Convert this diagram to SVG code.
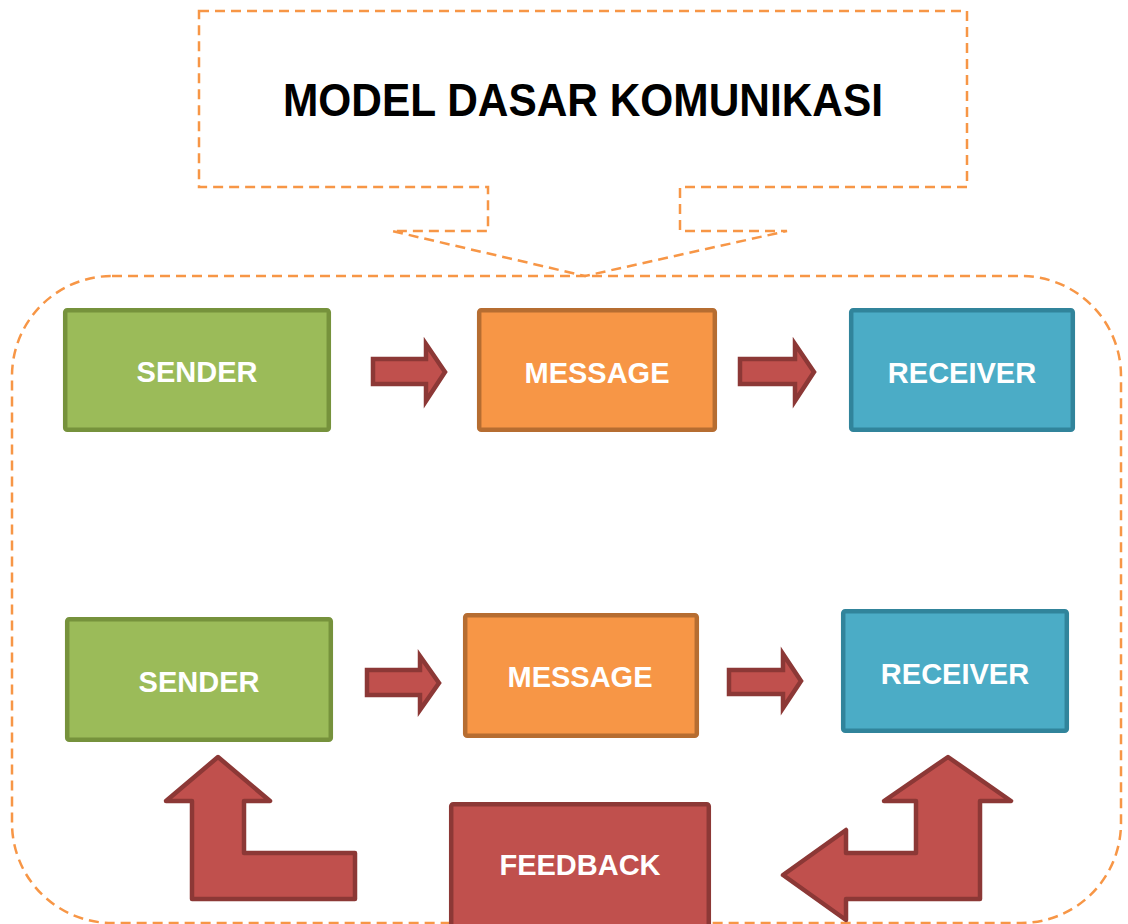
<svg xmlns="http://www.w3.org/2000/svg" width="1128" height="924" viewBox="0 0 1128 924">
<style>
.dash{fill:none;stroke:#F79646;stroke-width:2.5;stroke-dasharray:10 6}
.green{fill:#9BBB59;stroke:#76923C;stroke-width:4.5}
.orange{fill:#F79646;stroke:#B66D31;stroke-width:4.5}
.blue{fill:#4BACC6;stroke:#31849B;stroke-width:4.5}
.red{fill:#C0504D;stroke:#8C3836;stroke-width:4.5;stroke-linejoin:round}
.arr{fill:#C0504D;stroke:#8C3836;stroke-width:4.5;stroke-linejoin:miter}
.lbl{font-family:"Liberation Sans",Arial,sans-serif;font-weight:bold;font-size:29px;fill:#FFFFFF;text-anchor:middle}
.title{font-family:"Liberation Sans",Arial,sans-serif;font-weight:bold;font-size:47px;fill:#000000;text-anchor:middle}
</style>
<rect width="1128" height="924" fill="#FFFFFF"/>
<g id="container">
<rect class="dash" x="12" y="276" width="1109" height="647" rx="100" ry="100"/>
</g>
<g id="title">
<path class="dash" d="M199,11 H967 V187 H680 V231 H787 L585,276 L392,231 H488 V187 H199 Z"/>
<text class="title" x="583" y="116" textLength="600" lengthAdjust="spacingAndGlyphs">MODEL DASAR KOMUNIKASI</text>
</g>
<g id="sender1">
<rect class="green" x="65.2" y="310.2" width="263.6" height="119.6" rx="2"/>
<text class="lbl" x="197" y="382">SENDER</text>
</g>
<g id="message1">
<rect class="orange" x="479.2" y="310.2" width="235.6" height="119.6" rx="2"/>
<text class="lbl" x="597" y="383">MESSAGE</text>
</g>
<g id="receiver1">
<rect class="blue" x="851.2" y="310.2" width="221.6" height="119.6" rx="2"/>
<text class="lbl" x="962" y="383">RECEIVER</text>
</g>
<g id="sender2">
<rect class="green" x="67.2" y="619.2" width="263.6" height="120.6" rx="2"/>
<text class="lbl" x="199" y="692">SENDER</text>
</g>
<g id="message2">
<rect class="orange" x="465.2" y="615.2" width="231.6" height="120.6" rx="2"/>
<text class="lbl" x="580" y="687">MESSAGE</text>
</g>
<g id="receiver2">
<rect class="blue" x="843.2" y="611.2" width="223.6" height="119.6" rx="2"/>
<text class="lbl" x="955" y="684">RECEIVER</text>
</g>
<g id="feedback">
<rect class="red" x="451.2" y="804.2" width="257.6" height="140" rx="2"/>
<text class="lbl" x="580" y="875">FEEDBACK</text>
</g>
<g id="connectors">
<polygon class="arr" points="373,359 426,359 426,344 445,372 426,401 426,384 373,384"/>
<polygon class="arr" points="740,359 795,359 795,344 814,372 795,401 795,384 740,384"/>
<polygon class="arr" points="367,670 420,670 420,656 439,683 420,710 420,695 367,695"/>
<polygon class="arr" points="729,670 783,670 783,654 801,681 783,708 783,694 729,694"/>
<polygon class="red" points="218,757 270,801 244,801 244,853 355,853 355,899 192,899 192,801 166,801"/>
<polygon class="red" points="948,757 1011,801 980,801 980,899 846,899 846,920 783,875 846,830 846,853 916,853 916,801 884,801"/>
</g>
</svg>
